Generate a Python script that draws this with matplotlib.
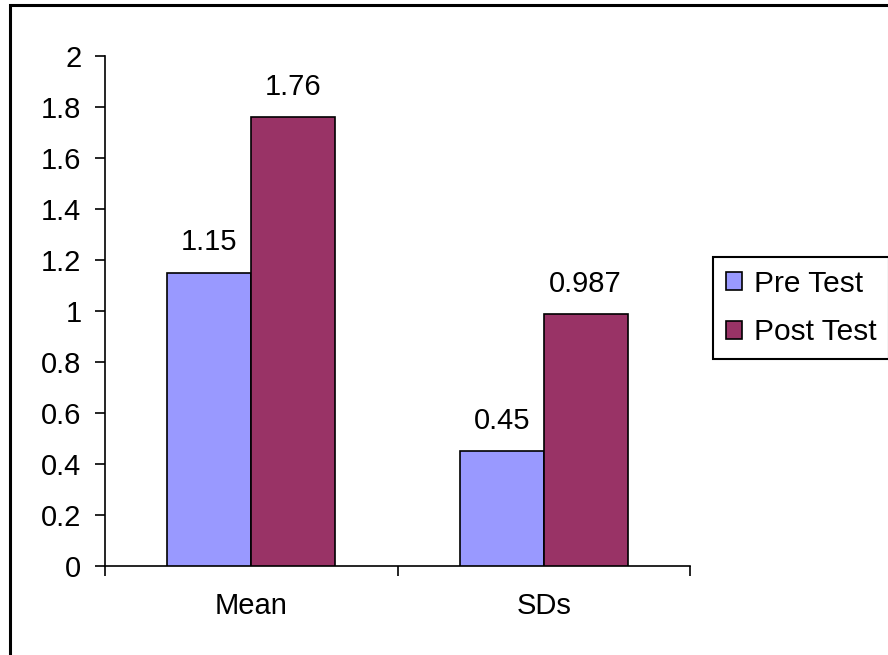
import matplotlib
matplotlib.use("Agg")
import matplotlib.pyplot as plt
from matplotlib.patches import Patch, Rectangle

categories = ["Mean", "SDs"]
series_names = ["Pre Test", "Post Test"]
pre_test = [1.15, 0.45]
post_test = [1.76, 0.987]
value_labels_pre = ["1.15", "0.45"]
value_labels_post = ["1.76", "0.987"]
y_ticks = [0, 0.2, 0.4, 0.6, 0.8, 1, 1.2, 1.4, 1.6, 1.8, 2]
y_tick_labels = ["0", "0.2", "0.4", "0.6", "0.8", "1", "1.2", "1.4", "1.6", "1.8", "2"]

colors = ["#9999FF", "#993366"]

plt.rcParams["font.family"] = ["Liberation Sans", "DejaVu Sans"]
fs = 21

W, H = 888, 655
fig = plt.figure(figsize=(W / 100, H / 100), dpi=100)

# outer chart frame
fig.patches.append(Rectangle((10 / W, 0 - 0.01), 1.0, 1 - 5 / H + 0.01,
                             transform=fig.transFigure, fill=False,
                             edgecolor="black", linewidth=2.2, zorder=0))

ax = fig.add_axes([105 / W, 1 - 566 / H, (690 - 105) / W, (566 - 56) / H])

bw = 84 / 293
xs = list(range(len(categories)))
for i, (vals, labs) in enumerate([(pre_test, value_labels_pre), (post_test, value_labels_post)]):
    offs = (-0.5 + i) * bw
    pos = [x + offs for x in xs]
    ax.bar(pos, vals, width=bw, color=colors[i], edgecolor="black", linewidth=1.2,
           label=series_names[i], zorder=3)
    for p, v, t in zip(pos, vals, labs):
        ax.annotate(t, (p, v), xytext=(0, 12), textcoords="offset points",
                    ha="center", va="bottom", fontsize=fs)

ax.set_xlim(-0.5, len(categories) - 0.5)
ax.set_ylim(0, 2)
ax.set_yticks(y_ticks)
ax.set_yticklabels(y_tick_labels, fontsize=fs)
ax.set_xticks([-0.5, 0.5, 1.5])
ax.set_xticklabels([])
ax.set_xticks(xs, minor=True)
ax.set_xticklabels(categories, minor=True, fontsize=fs)
ax.tick_params(axis="x", which="major", direction="out", length=7, width=1.2)
ax.tick_params(axis="x", which="minor", length=0, pad=19)
ax.tick_params(axis="y", direction="out", length=7, width=1.2, pad=10)

for s in ["top", "right"]:
    ax.spines[s].set_visible(False)
for s in ["left", "bottom"]:
    ax.spines[s].set_linewidth(1.2)
    ax.spines[s].set_color("black")

handles = [Patch(facecolor=c, edgecolor="black", linewidth=1.2) for c in colors]
leg = fig.legend(handles, series_names, loc="upper left",
                 bbox_to_anchor=(713 / W, 1 - 257 / H), fontsize=21.5,
                 handlelength=0.55, handleheight=0.55, handletextpad=0.4,
                 borderpad=0.42, labelspacing=0.69, fancybox=False,
                 edgecolor="black", framealpha=1, borderaxespad=0)
leg.get_frame().set_linewidth(1.5)

fig.savefig("out.png", dpi=100)
